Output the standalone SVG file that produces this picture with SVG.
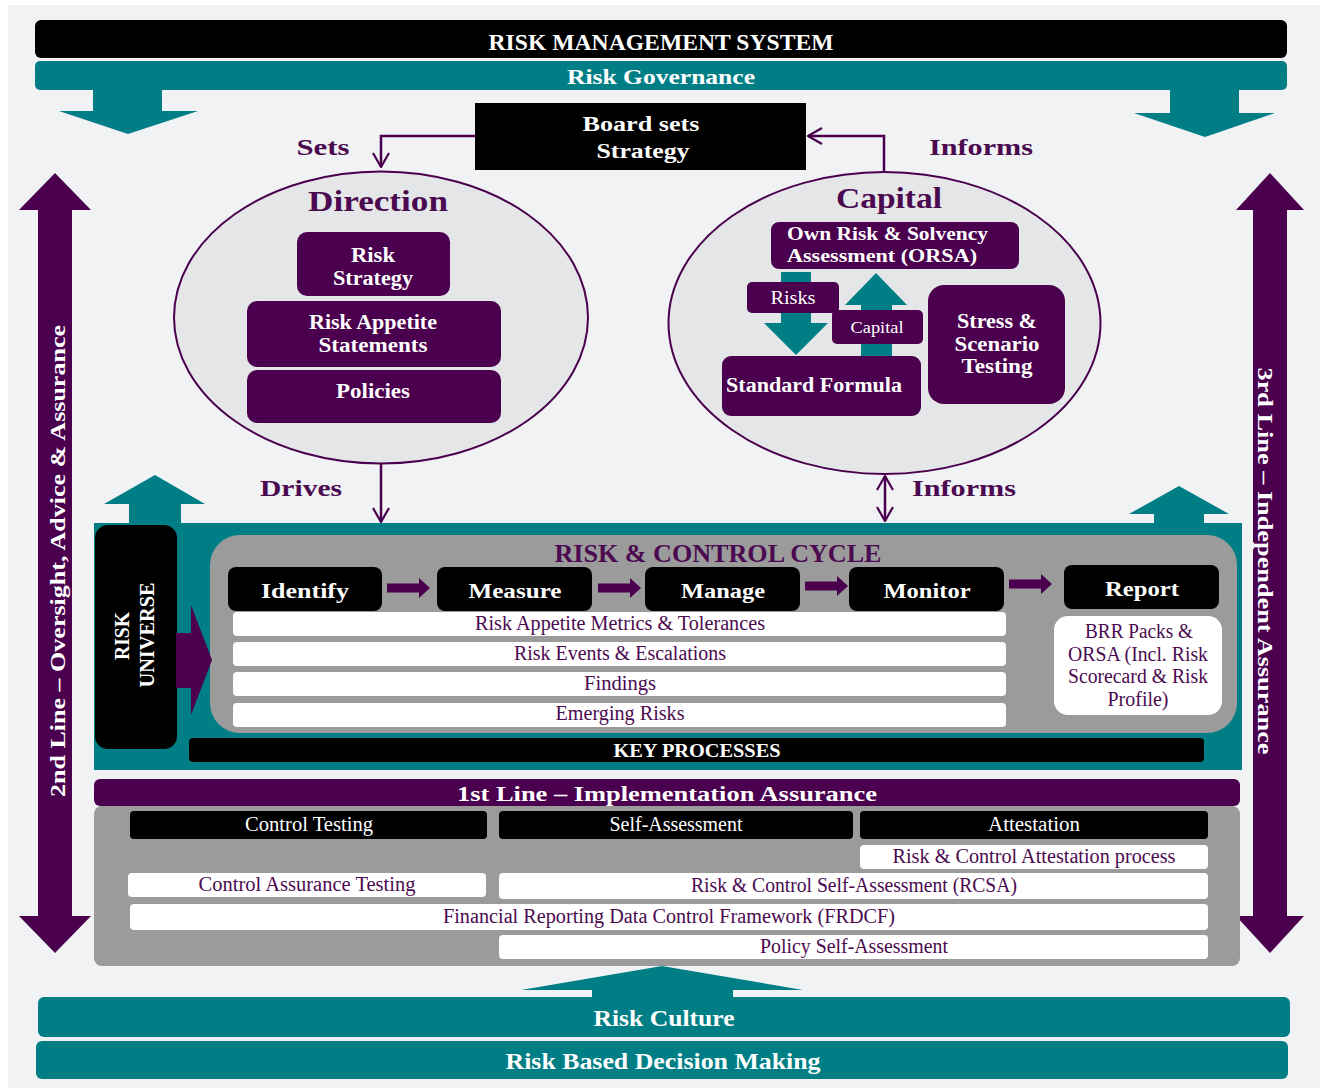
<svg xmlns="http://www.w3.org/2000/svg" width="1323" height="1090" viewBox="0 0 1323 1090">
  <style>
    text { font-family: "Liberation Serif", "Times New Roman", serif; }
    .b { font-weight: bold; }
    .w { fill: #ffffff; }
    .pt { fill: #4b0a50; }
    .c { text-anchor: middle; }
    .pu { fill: #4a004e; }
    .te { fill: #007e86; }
    .bk { fill: #000000; }
    .gr { fill: #9b9b9b; }
    .wh { fill: #ffffff; }
    .conn { fill: none; stroke: #4a004e; stroke-width: 2.5; }
  </style>
  <defs>
    <marker id="chev" viewBox="0 0 16 18" refX="15" refY="9" markerWidth="16" markerHeight="18" markerUnits="userSpaceOnUse" orient="auto-start-reverse">
      <path d="M1,1 L15,9 L1,17" fill="none" stroke="#4a004e" stroke-width="2.2"/>
    </marker>
    <path id="stepArrow" d="M0,-4.5 H32 V-10 L43,0 L32,10 V4.5 H0 Z"/>
  </defs>

  <!-- page -->
  <rect x="0" y="0" width="1323" height="1090" fill="#ffffff"/>
  <rect x="8" y="5" width="1312" height="1083" fill="#f1f2f4"/>

  <!-- header bars -->
  <g id="header">
    <rect x="35" y="20" width="1252" height="38" rx="6" class="bk"/>
    <text x="661" y="50" class="b w c" font-size="23" textLength="345" lengthAdjust="spacingAndGlyphs">RISK MANAGEMENT SYSTEM</text>
    <rect x="35" y="61" width="1252" height="29" rx="5" class="te"/>
    <text x="661" y="84" class="b w c" font-size="22" textLength="188" lengthAdjust="spacingAndGlyphs">Risk Governance</text>
    <polygon class="te" points="93,90 162,90 162,111 198,111 128,134 59,111 93,111"/>
    <polygon class="te" points="1170,90 1239,90 1239,113 1275,113 1205,137 1134,113 1170,113"/>
  </g>

  <!-- side lines of defence -->
  <g id="second-line">
    <polygon class="pu" points="55,173 91,210 72,210 72,916 91,916 55,953 19,916 38,916 38,210 19,210"/>
    <text transform="translate(65,561) rotate(-90)" class="b w c" font-size="20" textLength="472" lengthAdjust="spacingAndGlyphs">2nd Line – Oversight, Advice  &amp; Assurance</text>
  </g>
  <g id="third-line">
    <polygon class="pu" points="1270,173 1304,210 1287,210 1287,916 1304,916 1270,953 1236,916 1253,916 1253,210 1236,210"/>
    <text transform="translate(1258,561) rotate(90)" class="b w c" font-size="20" textLength="387" lengthAdjust="spacingAndGlyphs">3rd Line – Independent Assurance</text>
  </g>

  <!-- board -->
  <g id="board">
    <rect x="475" y="103" width="331" height="67" class="bk"/>
    <text x="641" y="131" class="b w c" font-size="21" textLength="117" lengthAdjust="spacingAndGlyphs">Board sets</text>
    <text x="643" y="158" class="b w c" font-size="21" textLength="93" lengthAdjust="spacingAndGlyphs">Strategy</text>
  </g>

  <!-- direction -->
  <g id="direction">
    <ellipse cx="381" cy="317.5" rx="207" ry="146" fill="#e5e6e8" stroke="#4a004e" stroke-width="2"/>
    <text x="378" y="211" class="b pt c" font-size="29" textLength="140" lengthAdjust="spacingAndGlyphs">Direction</text>
    <rect x="297" y="232" width="153" height="64" rx="10" class="pu"/>
    <text x="373" y="262" class="b w c" font-size="20" textLength="44" lengthAdjust="spacingAndGlyphs">Risk</text>
    <text x="373" y="285" class="b w c" font-size="20" textLength="80" lengthAdjust="spacingAndGlyphs">Strategy</text>
    <rect x="247" y="301" width="254" height="66" rx="10" class="pu"/>
    <text x="373" y="329" class="b w c" font-size="20" textLength="128" lengthAdjust="spacingAndGlyphs">Risk Appetite</text>
    <text x="373" y="352" class="b w c" font-size="20" textLength="109" lengthAdjust="spacingAndGlyphs">Statements</text>
    <rect x="247" y="370" width="254" height="53" rx="10" class="pu"/>
    <text x="373" y="398" class="b w c" font-size="20" textLength="74" lengthAdjust="spacingAndGlyphs">Policies</text>
  </g>

  <!-- capital -->
  <g id="capital">
    <ellipse cx="884.5" cy="323" rx="216" ry="151" fill="#e5e6e8" stroke="#4a004e" stroke-width="2"/>
    <text x="889" y="208" class="b pt c" font-size="29" textLength="106" lengthAdjust="spacingAndGlyphs">Capital</text>
    <rect x="771" y="222" width="248" height="47" rx="8" class="pu"/>
    <text x="787" y="240" class="b w" font-size="19" textLength="201" lengthAdjust="spacingAndGlyphs">Own Risk &amp; Solvency</text>
    <text x="787" y="262" class="b w" font-size="19" textLength="190" lengthAdjust="spacingAndGlyphs">Assessment (ORSA)</text>
    <polygon class="te" points="781,272 811,272 811,323 828,323 796,355 764,323 781,323"/>
    <polygon class="te" points="876,273 907,305 892,305 892,356 861,356 861,305 845,305"/>
    <rect x="747" y="282" width="92" height="31" rx="5" class="pu"/>
    <text x="793" y="304" class="w c" font-size="18" textLength="45" lengthAdjust="spacingAndGlyphs">Risks</text>
    <rect x="832" y="310" width="91" height="34" rx="5" class="pu"/>
    <text x="877" y="333" class="w c" font-size="16" textLength="53" lengthAdjust="spacingAndGlyphs">Capital</text>
    <rect x="722" y="356" width="199" height="60" rx="9" class="pu"/>
    <text x="814" y="392" class="b w c" font-size="20" textLength="176" lengthAdjust="spacingAndGlyphs">Standard Formula</text>
    <rect x="928" y="285" width="137" height="119" rx="16" class="pu"/>
    <text x="997" y="328" class="b w c" font-size="20" textLength="80" lengthAdjust="spacingAndGlyphs">Stress &amp;</text>
    <text x="997" y="351" class="b w c" font-size="20" textLength="85" lengthAdjust="spacingAndGlyphs">Scenario</text>
    <text x="997" y="373" class="b w c" font-size="20" textLength="71" lengthAdjust="spacingAndGlyphs">Testing</text>
  </g>

  <!-- risk & control cycle panel -->
  <g id="control-cycle">
    <polygon class="te" points="155,475 205,504 181,504 181,524 129,524 129,504 104,504"/>
    <polygon class="te" points="1179,486 1229,514 1204,514 1204,524 1154,524 1154,514 1129,514"/>
    <rect x="94" y="523" width="1148" height="247" class="te"/>
    <rect x="210" y="535" width="1027" height="198" rx="30" class="gr"/>
    <text x="718" y="562" class="b pt c" font-size="25" textLength="327" lengthAdjust="spacingAndGlyphs">RISK &amp; CONTROL CYCLE</text>
    <rect x="189" y="738" width="1015" height="24" rx="4" class="bk"/>
    <text x="697" y="757" class="b w c" font-size="19" textLength="167" lengthAdjust="spacingAndGlyphs">KEY PROCESSES</text>
  </g>

  <g id="risk-universe">
    <rect x="95" y="525" width="82" height="224" rx="13" class="bk"/>
    <text transform="translate(129,636) rotate(-90)" class="b w c" font-size="20" textLength="48" lengthAdjust="spacingAndGlyphs">RISK</text>
    <text transform="translate(154,635) rotate(-90)" class="b w c" font-size="20" textLength="105" lengthAdjust="spacingAndGlyphs">UNIVERSE</text>
    <polygon class="pu" points="176,633 191,633 191,605 212,660 191,715 191,688 176,688"/>
  </g>

  <g id="step-identify">
    <rect x="228" y="567" width="154" height="44" rx="8" class="bk"/>
    <text x="305" y="598" class="b w c" font-size="22" textLength="88" lengthAdjust="spacingAndGlyphs">Identify</text>
  </g>
  <g id="step-measure">
    <rect x="437" y="567" width="155" height="44" rx="8" class="bk"/>
    <text x="515" y="598" class="b w c" font-size="22" textLength="93" lengthAdjust="spacingAndGlyphs">Measure</text>
  </g>
  <g id="step-manage">
    <rect x="645" y="567" width="155" height="44" rx="8" class="bk"/>
    <text x="723" y="598" class="b w c" font-size="22" textLength="84" lengthAdjust="spacingAndGlyphs">Manage</text>
  </g>
  <g id="step-monitor">
    <rect x="849" y="567" width="155" height="44" rx="8" class="bk"/>
    <text x="927" y="598" class="b w c" font-size="22" textLength="87" lengthAdjust="spacingAndGlyphs">Monitor</text>
  </g>
  <g id="step-report">
    <rect x="1064" y="565" width="155" height="44" rx="8" class="bk"/>
    <text x="1142" y="596" class="b w c" font-size="22" textLength="74" lengthAdjust="spacingAndGlyphs">Report</text>
    <rect x="1054" y="616" width="168" height="99" rx="14" class="wh"/>
    <g class="pt c" font-size="20">
      <text x="1139" y="638" textLength="108" lengthAdjust="spacingAndGlyphs">BRR Packs &amp;</text>
      <text x="1138" y="661" textLength="140" lengthAdjust="spacingAndGlyphs">ORSA (Incl. Risk</text>
      <text x="1138" y="683" textLength="140" lengthAdjust="spacingAndGlyphs">Scorecard &amp; Risk</text>
      <text x="1138" y="706" textLength="61" lengthAdjust="spacingAndGlyphs">Profile)</text>
    </g>
  </g>

  <g id="cycle-rows" class="pt c" font-size="20">
    <rect x="233" y="612" width="773" height="24" rx="4" class="wh"/>
    <text x="620" y="630" textLength="290" lengthAdjust="spacingAndGlyphs">Risk Appetite Metrics &amp; Tolerances</text>
    <rect x="233" y="642" width="773" height="24" rx="4" class="wh"/>
    <text x="620" y="660" textLength="212" lengthAdjust="spacingAndGlyphs">Risk Events &amp; Escalations</text>
    <rect x="233" y="672" width="773" height="24" rx="4" class="wh"/>
    <text x="620" y="690" textLength="72" lengthAdjust="spacingAndGlyphs">Findings</text>
    <rect x="233" y="703" width="773" height="24" rx="4" class="wh"/>
    <text x="620" y="720" textLength="129" lengthAdjust="spacingAndGlyphs">Emerging Risks</text>
  </g>

  <!-- first line -->
  <g id="first-line">
    <rect x="94" y="806" width="1146" height="160" rx="8" class="gr"/>
    <rect x="94" y="779" width="1146" height="27" rx="6" class="pu"/>
    <text x="667" y="801" class="b w c" font-size="21" textLength="420" lengthAdjust="spacingAndGlyphs">1st Line  – Implementation Assurance</text>
    <rect x="130" y="811" width="357" height="28" rx="4" class="bk"/>
    <text x="309" y="831" class="w c" font-size="20" textLength="128" lengthAdjust="spacingAndGlyphs">Control Testing</text>
    <rect x="499" y="811" width="354" height="28" rx="4" class="bk"/>
    <text x="676" y="831" class="w c" font-size="20" textLength="133" lengthAdjust="spacingAndGlyphs">Self-Assessment</text>
    <rect x="860" y="811" width="348" height="28" rx="4" class="bk"/>
    <text x="1034" y="831" class="w c" font-size="20" textLength="92" lengthAdjust="spacingAndGlyphs">Attestation</text>
    <g class="pt c" font-size="20">
      <rect x="860" y="845" width="348" height="24" rx="4" class="wh"/>
      <text x="1034" y="863" textLength="283" lengthAdjust="spacingAndGlyphs">Risk &amp; Control Attestation process</text>
      <rect x="128" y="873" width="358" height="24" rx="4" class="wh"/>
      <text x="307" y="891" textLength="217" lengthAdjust="spacingAndGlyphs">Control Assurance Testing</text>
      <rect x="499" y="873" width="709" height="26" rx="4" class="wh"/>
      <text x="854" y="892" textLength="326" lengthAdjust="spacingAndGlyphs">Risk &amp; Control Self-Assessment (RCSA)</text>
      <rect x="130" y="904" width="1078" height="26" rx="4" class="wh"/>
      <text x="669" y="923" textLength="452" lengthAdjust="spacingAndGlyphs">Financial Reporting Data Control Framework (FRDCF)</text>
      <rect x="499" y="935" width="709" height="24" rx="4" class="wh"/>
      <text x="854" y="953" textLength="188" lengthAdjust="spacingAndGlyphs">Policy Self-Assessment</text>
    </g>
  </g>

  <!-- foundations -->
  <g id="foundations">
    <polygon class="te" points="662,966 803,990 733,990 733,998 592,998 592,990 521,990"/>
    <rect x="38" y="997" width="1252" height="40" rx="6" class="te"/>
    <text x="664" y="1026" class="b w c" font-size="23" textLength="141" lengthAdjust="spacingAndGlyphs">Risk Culture</text>
    <rect x="36" y="1041" width="1252" height="38" rx="6" class="te"/>
    <text x="663" y="1069" class="b w c" font-size="23" textLength="315" lengthAdjust="spacingAndGlyphs">Risk Based Decision Making</text>
  </g>

  <!-- connectors -->
  <g id="connectors">
    <path class="conn" d="M475,136 H381 V167" marker-end="url(#chev)"/>
    <path class="conn" d="M884,172 V136 H808" marker-end="url(#chev)"/>
    <path class="conn" d="M381,464 V522" marker-end="url(#chev)"/>
    <path class="conn" d="M885,476 V521" marker-start="url(#chev)" marker-end="url(#chev)"/>
    <g class="pu">
      <use href="#stepArrow" x="387" y="588"/>
      <use href="#stepArrow" x="598" y="588"/>
      <use href="#stepArrow" x="805" y="586"/>
      <use href="#stepArrow" x="1009" y="584"/>
    </g>
    <text x="323" y="155" class="b pt c" font-size="24" textLength="53" lengthAdjust="spacingAndGlyphs">Sets</text>
    <text x="981" y="155" class="b pt c" font-size="24" textLength="104" lengthAdjust="spacingAndGlyphs">Informs</text>
    <text x="301" y="496" class="b pt c" font-size="24" textLength="82" lengthAdjust="spacingAndGlyphs">Drives</text>
    <text x="964" y="496" class="b pt c" font-size="24" textLength="104" lengthAdjust="spacingAndGlyphs">Informs</text>
  </g>
</svg>
